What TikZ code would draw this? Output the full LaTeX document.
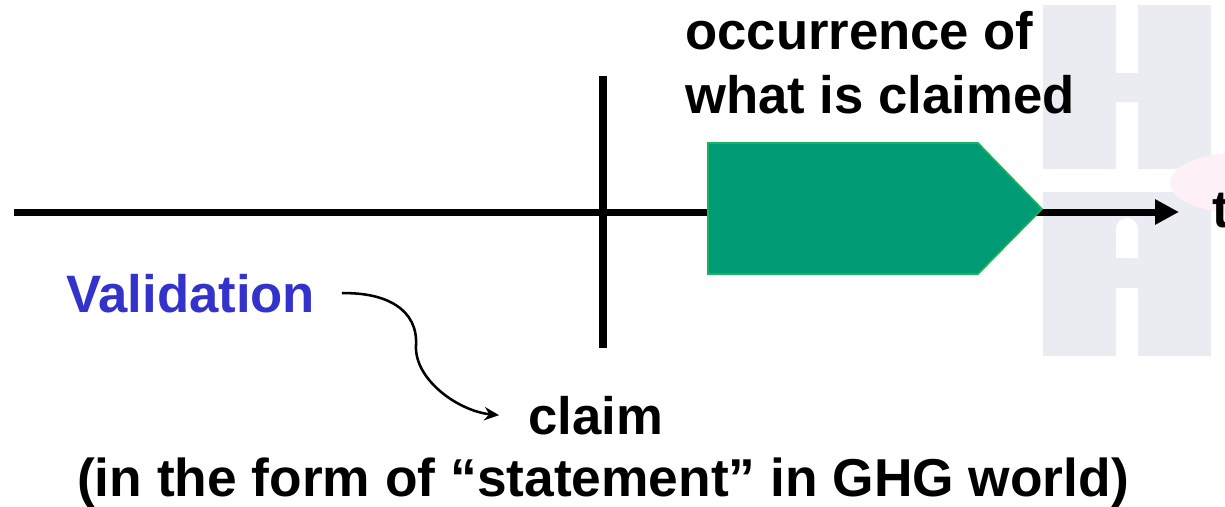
\documentclass[tikz,border=0pt]{standalone}
\usepackage{fontspec}
\setmainfont{Liberation Sans}
\usetikzlibrary{arrows.meta}
\begin{document}
\begin{tikzpicture}[x=0.75pt,y=-0.75pt,
  lbl/.style={font=\fontsize{39.5}{47.5}\selectfont\bfseries,inner sep=0pt}]
  \definecolor{logogrey}{HTML}{EBEBF2}
  \definecolor{blush}{HTML}{FDF0F6}
  \definecolor{occfill}{HTML}{009B74}
  \definecolor{occedge}{HTML}{1DB35C}
  \definecolor{valblue}{HTML}{3333CC}
  \useasboundingbox (0,0) rectangle (1225,507);
  % faint logo in the background
  \fill [logogrey] (1043,5) rectangle (1116,169) (1138,5) rectangle (1211,169) (1116,73) rectangle (1138,102);
  \fill [logogrey] (1043,192) rectangle (1116,356) (1138,192) rectangle (1211,356) (1116,192) rectangle (1138,288);
  \fill [white] (1116,258) -- (1116,229) arc (180:360:11) -- (1138,258) -- cycle;
  \fill [blush] (1238,183) ellipse (68 and 30);
  % time axis
  \coordinate (t0) at (14,212);
  \coordinate (t1) at (1179,212);
  \draw [line width=5.25pt,-{Triangle[length=18pt,width=18pt]}] (t0) -- (t1);
  \draw [line width=5.5pt] (603,76) -- (603,348);
  \filldraw [fill=occfill,draw=occedge,line width=1.2pt]
    (708,143) -- (978,143) -- (1042,209) -- (978,274) -- (708,274) -- cycle;
  \node (occ) [lbl,anchor=base west,align=left] at (685,113) {occurrence of\\what is claimed};
  \node (tlab) [lbl,anchor=base west] at (1212,227) {t};
  \node (val) [lbl,valblue,anchor=base west] at (66,312) {Validation};
  \node (claim) [lbl,anchor=base] at (596,434) {claim};
  \node (form) [lbl,font=\fontsize{40}{48}\selectfont\bfseries,anchor=base] at (603,496) {(in the form of “statement” in GHG world)};
  \coordinate (bend) at (416,345);
  \draw [line width=1.9pt,-{Stealth[length=11pt,width=10pt]}] ([xshift=20pt]val.east)
    .. controls +(45,-1) and +(2,-35) .. (bend)
    .. controls +(-2,35) and +(-40,-4) .. ([xshift=-22pt]claim.west);
\end{tikzpicture}
\end{document}
